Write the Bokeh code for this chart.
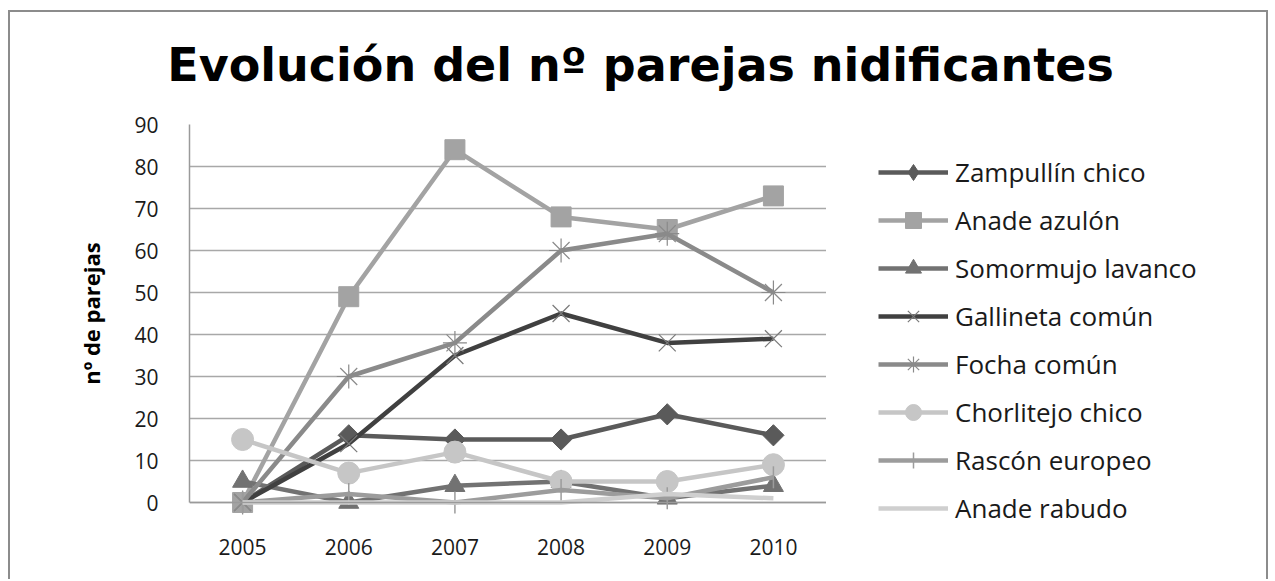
from bokeh.plotting import figure
from bokeh.models import Range1d, FactorRange, Legend, LegendItem, FixedTicker, Label
from bokeh.layouts import column, row
from bokeh.embed import file_html
from bokeh.resources import INLINE
from math import pi

# ---------------- data ----------------
years = ["2005", "2006", "2007", "2008", "2009", "2010"]
zampullin_chico = [0, 16, 15, 15, 21, 16]
anade_azulon = [0, 49, 84, 68, 65, 73]
somormujo_lavanco = [5, 0, 4, 5, 1, 4]
gallineta_comun = [0, 14, 35, 45, 38, 39]
focha_comun = [0, 30, 38, 60, 64, 50]
chorlitejo_chico = [15, 7, 12, 5, 5, 9]
rascon_europeo = [0, 2, 0, 3, 1, 6]
anade_rabudo = [0, 0, 0, 0, 2, 1]
series_names = ["Zampullín chico", "Anade azulón", "Somormujo lavanco", "Gallineta común",
                "Focha común", "Chorlitejo chico", "Rascón europeo", "Anade rabudo"]
y_ticks = [0, 10, 20, 30, 40, 50, 60, 70, 80, 90]
title_text = "Evolución del nº parejas nidificantes"
y_label = "nº de parejas"

series_values = [zampullin_chico, anade_azulon, somormujo_lavanco, gallineta_comun,
                 focha_comun, chorlitejo_chico, rascon_europeo, anade_rabudo]

# ---------------- styles ----------------
styles = [
    dict(color="#5a5a5a", marker="square", lmarker="diamond", size=15, angle=pi / 4, fill="#5a5a5a", mline="#5a5a5a", mlw=1),
    dict(color="#a3a3a3", marker="square", lmarker="square", size=20, angle=0, fill="#a3a3a3", mline="#a3a3a3", mlw=1),
    dict(color="#727272", marker="triangle", lmarker="triangle", size=20, angle=0, fill="#727272", mline="#727272", mlw=1),
    dict(color="#404040", marker="x", lmarker="x", size=24, angle=0, fill=None, mline="#7a7a7a", mlw=1.2),
    dict(color="#8a8a8a", marker="asterisk", lmarker="asterisk", size=24, angle=0, fill=None, mline="#8a8a8a", mlw=1.2),
    dict(color="#c6c6c6", marker="circle", lmarker="circle", size=22, angle=0, fill="#c6c6c6", mline="#c6c6c6", mlw=1),
    dict(color="#9c9c9c", marker="dash", lmarker="cross", size=22, angle=pi / 2, fill=None, mline="#9c9c9c", mlw=1.5),
    dict(color="#cfcfcf", marker=None, lmarker=None),
]

FONT = "Open Sans"
LINE_W = 4.5

# layout geometry (pixels)
TOP_H = 100          # title strip height
BODY_H = 467         # chart body height
BORDER_TOP = 12      # space above the plot area in the body
BORDER_BOTTOM = 14   # space below the (extended) plot area
PLOT_H = 378         # pixels between value 0 and value 90
Y_MAX = 90
y_min = -Y_MAX * (BODY_H - BORDER_TOP - BORDER_BOTTOM - PLOT_H) / PLOT_H
LABEL_PAD = "\u00a0" * 11   # lifts the centred axis title to the middle of the 0-90 span


def add_series(fig, for_legend=False):
    items = []
    for name, vals, st in zip(series_names, series_values, styles):
        rs = [fig.line(x=years, y=vals, line_color=st["color"], line_width=LINE_W)]
        mk = st["lmarker"] if for_legend else st["marker"]
        if mk is not None:
            rs.append(fig.scatter(x=years, y=vals, marker=mk, size=st["size"],
                                  angle=0 if for_legend else st["angle"],
                                  fill_color=st["fill"], line_color=st["mline"], line_width=st["mlw"]))
        items.append(LegendItem(label=name, renderers=rs))
    return items


def bare(fig):
    fig.outline_line_color = None
    fig.background_fill_color = "white"
    fig.border_fill_color = "white"
    fig.xgrid.visible = False
    fig.ygrid.visible = False


# ---------------- title strip ----------------
pt = figure(width=1256, height=TOP_H, x_axis_type=None, y_axis_type=None,
            output_backend="svg", toolbar_location=None,
            min_border_left=0, min_border_right=0, min_border_top=0, min_border_bottom=0)
bare(pt)
pt.add_layout(Label(x=630, y=48, x_units="screen", y_units="screen", text=title_text,
                    text_font="DejaVu Sans", text_font_style="bold", text_font_size="46px",
                    text_align="center", text_baseline="middle", text_color="#000000"))

# ---------------- main chart ----------------
p = figure(
    width=816, height=BODY_H,
    x_range=FactorRange(*years, range_padding=0),
    y_range=Range1d(y_min, Y_MAX),
    output_backend="svg", toolbar_location=None,
    min_border_left=179, min_border_right=0, min_border_top=BORDER_TOP, min_border_bottom=BORDER_BOTTOM,
)
p.outline_line_color = None
p.background_fill_color = "white"
p.border_fill_color = "white"

p.yaxis.ticker = FixedTicker(ticks=y_ticks)
p.yaxis.bounds = (0, Y_MAX)
p.yaxis.major_tick_out = 0
p.yaxis.major_tick_in = 0
p.yaxis.minor_tick_line_color = None
p.yaxis.axis_line_color = "#9a9a9a"
p.yaxis.axis_line_width = 1.5
p.yaxis.major_label_text_font = FONT
p.yaxis.major_label_text_font_size = "21px"
p.yaxis.major_label_text_color = "#1a1a1a"
p.yaxis.major_label_standoff = 31
p.yaxis.axis_label = LABEL_PAD + y_label
p.yaxis.axis_label_text_font = FONT
p.yaxis.axis_label_text_font_style = "bold"
p.yaxis.axis_label_text_font_size = "22px"
p.yaxis.axis_label_text_color = "#000000"
p.yaxis.axis_label_standoff = 25

p.xaxis.fixed_location = 0
p.xaxis.major_tick_out = 0
p.xaxis.major_tick_in = 0
p.xaxis.axis_line_color = "#9a9a9a"
p.xaxis.axis_line_width = 1.5
p.xaxis.major_label_text_font = FONT
p.xaxis.major_label_text_font_size = "21px"
p.xaxis.major_label_text_color = "#1a1a1a"
p.xaxis.major_label_standoff = 36

p.xgrid.grid_line_color = None
p.ygrid.grid_line_color = "#a8a8a8"
p.ygrid.grid_line_width = 1.5

add_series(p)

# ---------------- legend panel (same series; its plot area shows no data) ----------------
pl = figure(width=440, height=BODY_H, x_range=FactorRange(*years), y_range=Range1d(1000, 1001),
            x_axis_type=None, y_axis_type=None, output_backend="svg", toolbar_location=None,
            min_border_left=0, min_border_right=0, min_border_top=BORDER_TOP, min_border_bottom=BORDER_BOTTOM)
bare(pl)
legend_items = add_series(pl, for_legend=True)
legend = Legend(
    items=legend_items, location=(52, 37), orientation="vertical",
    glyph_width=70, glyph_height=40, label_height=40, spacing=8, padding=0, margin=0,
    label_standoff=7, label_text_font=FONT, label_text_font_size="26px",
    label_text_color="#1a1a1a", label_text_baseline="middle",
    background_fill_alpha=0, border_line_alpha=0,
)
pl.add_layout(legend, "center")

layout = column(pt, row(p, pl, spacing=0), spacing=0)
layout.margin = (10, 0, 0, 8)
layout.styles = {"border-top": "2px solid #8c8c8c", "border-left": "2px solid #8c8c8c",
                 "border-right": "2px solid #8c8c8c"}

open("out.html", "w").write(file_html(layout, INLINE))
